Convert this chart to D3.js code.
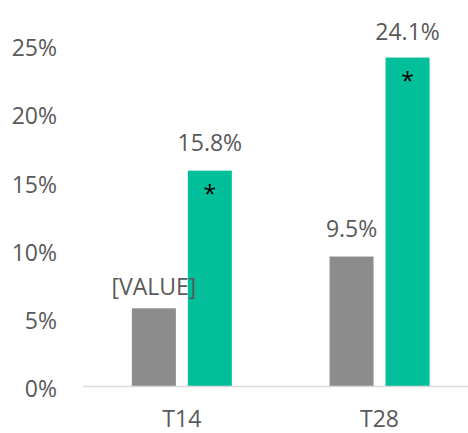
<!DOCTYPE html>
<html>
<head>
<meta charset="utf-8">
<script src="https://cdn.jsdelivr.net/npm/d3@7"></script>
<style>
  body { margin: 0; background: #fff; }
  text { font-family: "Open Sans", sans-serif; }
</style>
</head>
<body>
<script>
// data
var categories = ["T14", "T28"];
var series = ["control", "treated"];
var controlValues = [5.7, 9.5];
var treatedValues = [15.8, 24.1];
var controlLabels = ["[VALUE]", "9.5%"];
var treatedLabels = ["15.8%", "24.1%"];
var treatedMarks = ["*", "*"];
var yTicks = [0, 5, 10, 15, 20, 25];

var width = 468, height = 433;
var colors = { control: "#8c8c8c", treated: "#00bf9a" };

var rows = categories.map(function(c, i) {
    return {
        cat: c,
        bars: [
            { key: "control", value: controlValues[i], label: controlLabels[i], mark: "" },
            { key: "treated", value: treatedValues[i], label: treatedLabels[i], mark: treatedMarks[i] }
        ]
    };
});

var svg = d3.select("body").append("svg")
    .attr("width", width)
    .attr("height", height);

var y = d3.scaleLinear().domain([0, 25]).range([386, 45.3]);

var x0 = d3.scaleBand()
    .domain(categories)
    .range([83, 478.4])
    .padding(0);

var groupW = 100;
var x1 = d3.scaleBand()
    .domain(series)
    .range([0, groupW])
    .paddingInner(0.214)
    .paddingOuter(0);

// y tick labels (no gridlines)
svg.append("g").selectAll("text")
    .data(yTicks)
    .enter()
    .append("text")
    .attr("x", 57)
    .attr("y", function(d) { return y(d) + 11; })
    .attr("text-anchor", "end")
    .attr("font-size", 23)
    .attr("fill", "#595959")
    .text(function(d) { return d + "%"; });

var groups = svg.selectAll("g.grp")
    .data(rows)
    .enter()
    .append("g")
    .attr("class", "grp")
    .attr("transform", function(d) {
        return "translate(" + (x0(d.cat) + (x0.bandwidth() - groupW) / 2) + ",0)";
    });

groups.selectAll("rect")
    .data(function(d) { return d.bars; })
    .enter()
    .append("rect")
    .attr("x", function(d) { return x1(d.key); })
    .attr("y", function(d) { return y(d.value); })
    .attr("width", x1.bandwidth())
    .attr("height", function(d) { return y(0) - y(d.value); })
    .attr("fill", function(d) { return colors[d.key]; });

// value labels; a couple sit a little off the default spot in the original
var nudge = { "[VALUE]": 7, "24.1%": 2 };
groups.selectAll("text.val")
    .data(function(d) { return d.bars; })
    .enter()
    .append("text")
    .attr("class", "val")
    .attr("x", function(d) { return x1(d.key) + x1.bandwidth() / 2; })
    .attr("y", function(d) { return y(d.value) - 20 + (nudge[d.label] || 0); })
    .attr("text-anchor", "middle")
    .attr("font-size", 23)
    .attr("fill", "#595959")
    .text(function(d) { return d.label; });

// significance marks inside the bars
groups.selectAll("text.mark")
    .data(function(d) { return d.bars.filter(function(b) { return b.mark; }); })
    .enter()
    .append("text")
    .attr("class", "mark")
    .attr("x", function(d) { return x1(d.key) + x1.bandwidth() / 2; })
    .attr("y", function(d) { return y(d.value) + 31; })
    .attr("text-anchor", "middle")
    .attr("font-size", 23)
    .attr("fill", "#000")
    .text(function(d) { return d.mark; });

// baseline
svg.append("line")
    .attr("x1", 83)
    .attr("x2", width)
    .attr("y1", y(0) + 0.5)
    .attr("y2", y(0) + 0.5)
    .attr("stroke", "#d9d9d9")
    .attr("stroke-width", 1.5);

// category labels
svg.append("g").selectAll("text")
    .data(categories)
    .enter()
    .append("text")
    .attr("x", function(d) { return x0(d) + x0.bandwidth() / 2; })
    .attr("y", 427)
    .attr("text-anchor", "middle")
    .attr("font-size", 23)
    .attr("fill", "#595959")
    .text(function(d) { return d; });
</script>
</body>
</html>
